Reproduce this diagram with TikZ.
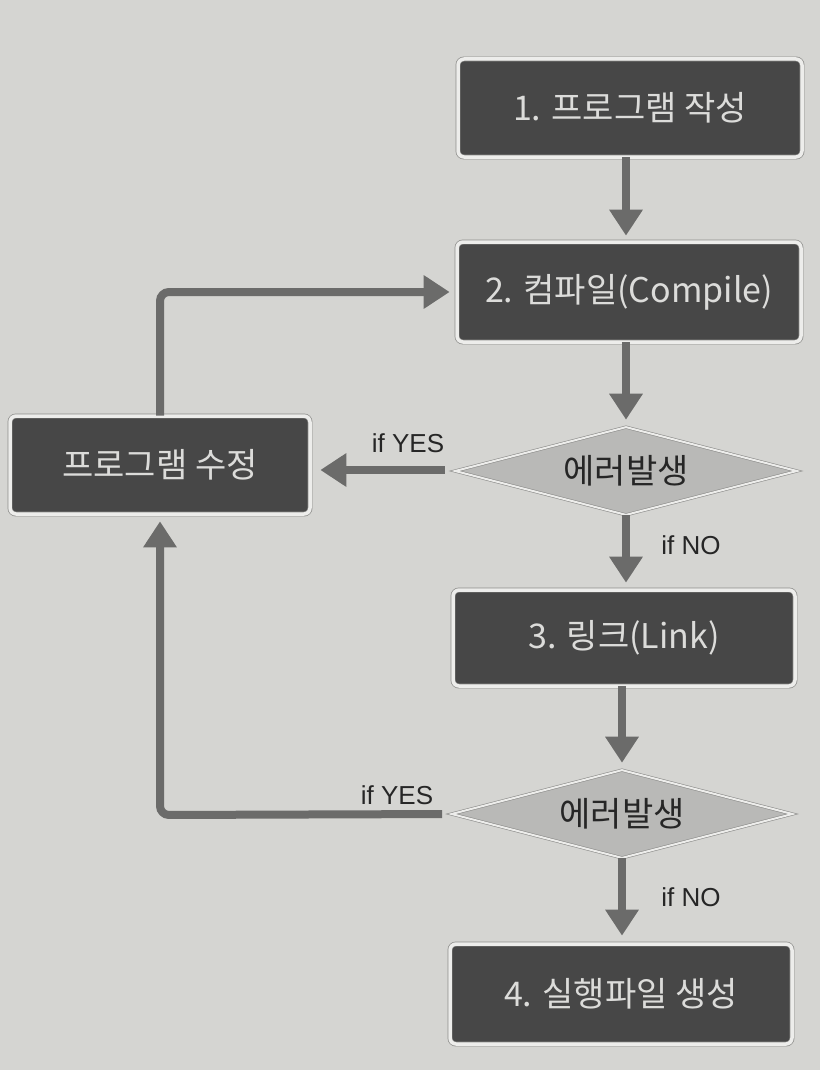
\documentclass[tikz,border=0pt]{standalone}
\usepackage{fontspec}
\usetikzlibrary{shapes.geometric,arrows.meta}
\newfontfamily\kor{Noto Sans CJK KR}
\newfontfamily\lab{Liberation Sans}
\definecolor{paper}{HTML}{D5D5D2}
\definecolor{boxfill}{HTML}{474747}
\definecolor{boxtext}{HTML}{DCDCDA}
\definecolor{rim}{HTML}{EDEDEB}
\definecolor{rimline}{HTML}{8C8C8A}
\definecolor{dfill}{HTML}{B9B9B7}
\definecolor{arrowc}{HTML}{6B6B6A}
\tikzset{
  stepbox/.style={rectangle, rounded corners=6pt, fill=boxfill, draw=rimline,
    double=rim, double distance=3.5pt, line width=0.7pt,
    text=boxtext, font=\kor\fontsize{34}{38}\selectfont, inner sep=0pt},
  decide/.style={diamond, shape aspect=3.9, fill=dfill, draw=rimline, double=rim, double distance=2pt,
    line width=0.6pt, inner sep=0pt},
  dtext/.style={text=black!85, font=\kor\fontsize{34}{38}\selectfont, inner sep=0pt},
  flow/.style={draw=arrowc, line width=8pt, rounded corners=9pt,
    -{Triangle[width=32pt,length=26pt]}},
  cond/.style={font=\lab\fontsize{26}{30}\selectfont, text=black!85, inner sep=0pt}
}
\begin{document}
\begin{tikzpicture}[x=1pt,y=-1pt]
\fill[paper] (0,0) rectangle (820,1070);
\useasboundingbox (0,0) rectangle (820,1070);

\node[stepbox, minimum width=344pt, minimum height=98pt] (b1) at (630,108) {1. 프로그램 작성};
\node[stepbox, minimum width=344pt, minimum height=100pt] (b2) at (629,292) {2. 컴파일(Compile)};
\node[decide, minimum width=342pt, minimum height=88pt] (d1) at (626,471) {};
\node[dtext] (t1) at (d1.center) {에러발생};
\node[stepbox, minimum width=342pt, minimum height=96pt] (b3) at (624,638) {3. 링크(Link)};
\node[decide, minimum width=341pt, minimum height=88pt] (d2) at (622,814) {};
\node[dtext] (t2) at (d2.center) {에러발생};
\node[stepbox, minimum width=342pt, minimum height=100pt] (b4) at (621,994) {4. 실행파일 생성};
\node[stepbox, minimum width=300pt, minimum height=98pt] (fix) at (160,465) {프로그램 수정};

\coordinate (c1) at (160,292);
\coordinate (c2) at (160,815);

\draw[flow, shorten >=6pt] (b1.south -| d1.north) -- (b2.north -| d1.north);
\draw[flow, shorten >=7pt] (b2.south -| d1.north) -- (d1.north);
\draw[flow, shorten <=10pt, shorten >=10pt] (d1.west |- 0,470) -- (fix.east |- 0,470);
\draw[flow, shorten >=7pt] (d1.south) -- (b3.north -| d1.south);
\draw[flow, shorten >=7pt] (b3.south -| d2.north) -- (d2.north);
\draw[flow, shorten >=8pt] (d2.south) -- (b4.north -| d2.south);
\draw[flow, shorten <=9pt, shorten >=7pt] (d2.west) -- (c2) -- (fix.south);
\draw[flow, shorten >=7pt] (fix.north) -- (c1) -- (b2.west |- c1);

\node[cond] (y1) at (408,443) {if YES};
\node[cond] (n1) at (691,545) {if NO};
\node[cond] (y2) at (397,795) {if YES};
\node[cond] (n2) at (691,897) {if NO};
\end{tikzpicture}
\end{document}
